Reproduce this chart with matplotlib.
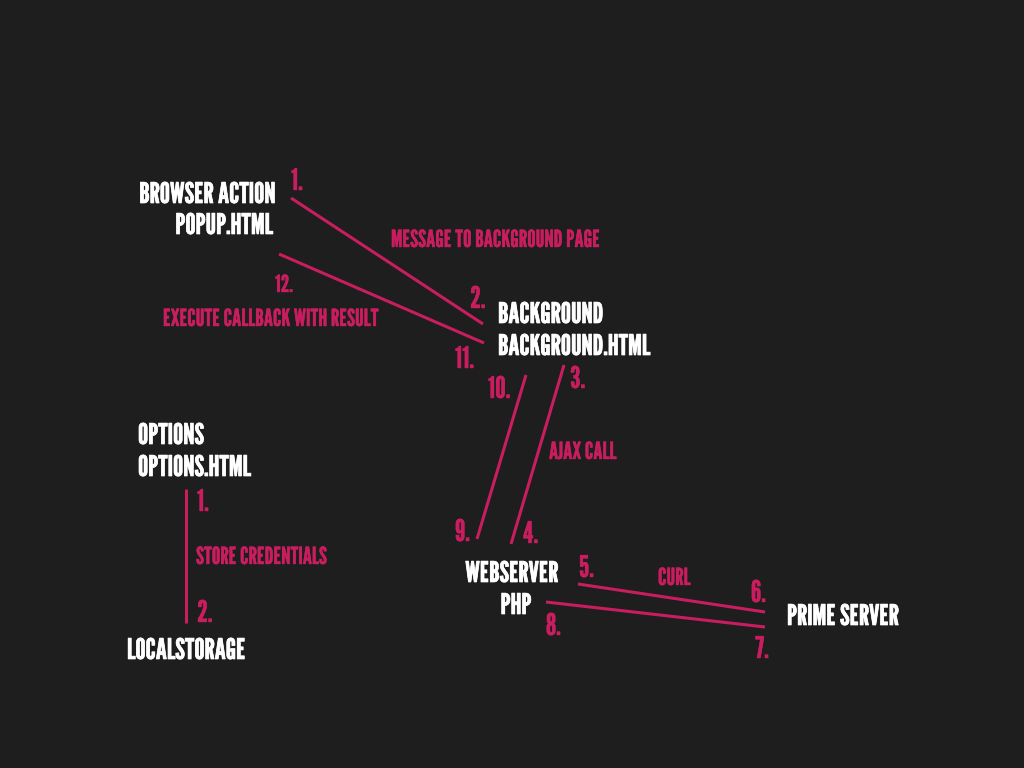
import matplotlib.pyplot as plt
import matplotlib.patheffects as pe

BG = '#1e1e1e'
PINK = '#c81d5e'
WHITE = '#ffffff'
FAM = ['League Gothic', 'Oswald', 'Antonio', 'DejaVu Sans']

# connector lines (x0, y0, x1, y1) in pixel space of the slide
line_x0 = [291, 279, 564, 526, 186, 578, 546]
line_y0 = [198, 254, 365, 375, 489, 584, 602]
line_x1 = [483, 484, 511, 477, 186, 765, 765]
line_y1 = [324, 343, 544, 539, 623, 612, 627]

# white node labels (x, baseline y)
node_text = ['BROWSER ACTION', 'POPUP.HTML', 'BACKGROUND', 'BACKGROUND.HTML',
             'OPTIONS', 'OPTIONS.HTML', 'LOCALSTORAGE', 'WEBSERVER', 'PHP',
             'PRIME SERVER']
node_x = [276, 273, 498, 498, 138, 138, 127, 512, 516, 787]
node_y = [203, 234, 323, 355, 444, 476, 659, 582, 614, 625]
node_ha = ['right', 'right', 'left', 'left', 'left', 'left', 'left',
           'center', 'center', 'left']

# pink step numbers
step_text = ['1.', '2.', '11.', '10.', '3.', '9.', '4.', '1.', '2.',
             '5.', '6.', '8.', '7.']
step_x = [291, 470, 455, 488, 570, 455, 523, 197, 197, 579, 751, 546, 755]
step_y = [190, 308, 368, 398, 388, 541, 543, 511, 622, 577, 602, 635, 658]

# pink captions
cap_text = ['MESSAGE TO BACKGROUND PAGE', '12.', 'EXECUTE CALLBACK WITH RESULT',
            'AJAX CALL', 'STORE CREDENTIALS', 'CURL']
cap_x = [391, 275, 163, 549, 196, 658]
cap_y = [247, 292, 326, 459, 564, 585]

fig = plt.figure(figsize=(10.24, 7.68), dpi=100, facecolor=BG)
ax = fig.add_axes([0, 0, 1, 1])
ax.set_facecolor(BG)
ax.set_xlim(0, 1024)
ax.set_ylim(768, 0)
ax.axis('off')

for i in range(len(line_x0)):
    ax.plot([line_x0[i], line_x1[i]], [line_y0[i], line_y1[i]],
            color=PINK, lw=2.2, solid_capstyle='butt')

# the slide font is a touch heavier than League Gothic regular
white_fx = [pe.withStroke(linewidth=0.5, foreground=WHITE)]
pink_fx = [pe.withStroke(linewidth=0.3, foreground=PINK)]

for t, x, y, ha in zip(node_text, node_x, node_y, node_ha):
    ax.text(x, y, t, color=WHITE, ha=ha, va='baseline', fontsize=20.5,
            family=FAM, path_effects=white_fx)

for t, x, y in zip(step_text, step_x, step_y):
    ax.text(x, y, t, color=PINK, ha='left', va='baseline', fontsize=21.5,
            family=FAM, path_effects=pink_fx)

for t, x, y in zip(cap_text, cap_x, cap_y):
    ax.text(x, y, t, color=PINK, ha='left', va='baseline', fontsize=17,
            family=FAM, path_effects=pink_fx)

plt.savefig('out.png', dpi=100, facecolor=BG)
